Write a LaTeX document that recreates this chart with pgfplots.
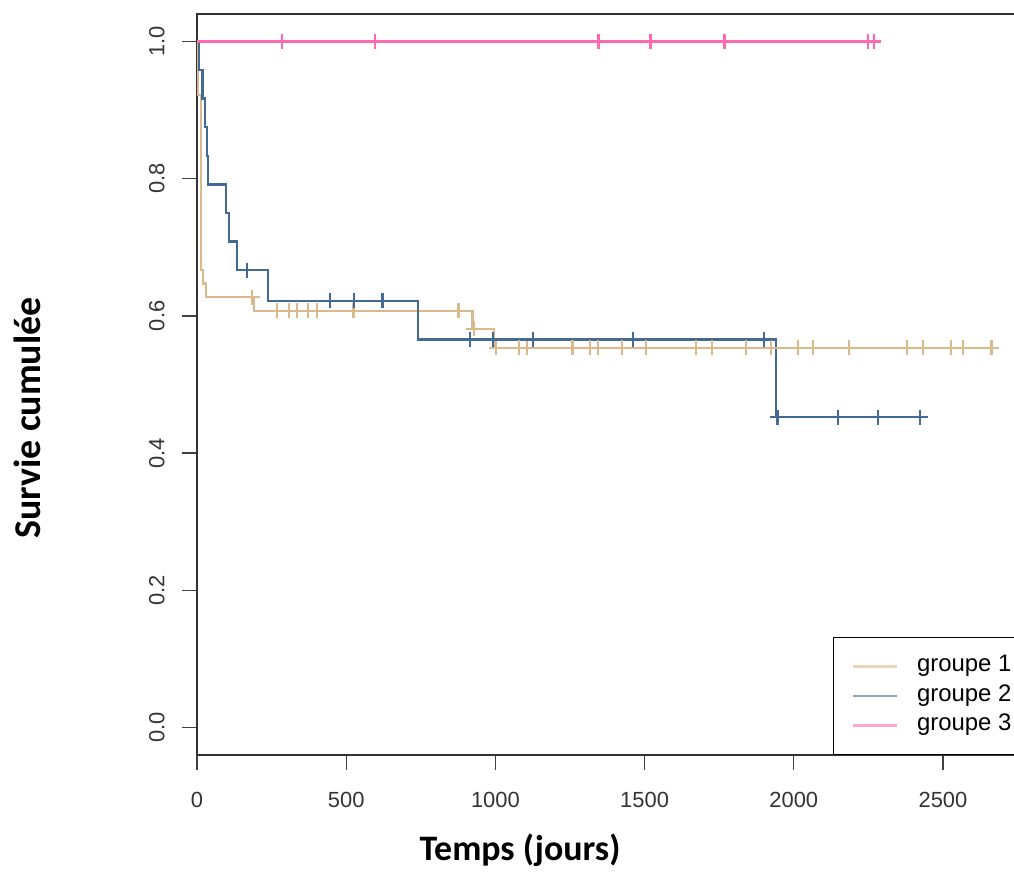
\documentclass[border=0pt]{standalone}
\usepackage{pgfplots}
\pgfplotsset{compat=1.18}
\usepackage{fontspec}
\setmainfont{Liberation Sans}
\newfontfamily\carlito{Carlito}
\definecolor{gtan}{RGB}{218,186,140}
\definecolor{gblue}{RGB}{66,106,148}
\definecolor{gpink}{RGB}{255,105,175}
\begin{document}
\begin{tikzpicture}
\begin{axis}[
  at={(0bp,0bp)}, anchor=south west,
  scale only axis,
  width=835.5bp, height=741bp,
  xmin=0, xmax=2800, ymin=-0.04, ymax=1.04,
  xtick={0,500,1000,1500,2000,2500},
  ytick={0,0.2,0.4,0.6,0.8,1.0},
  xtick pos=bottom, ytick pos=left,
  tick align=outside, major tick length=15bp,
  tick style={line width=1.3bp, black!75},
  axis line style={line width=1.5bp, black!80},
  /pgf/number format/assume math mode=true,
  /pgf/number format/1000 sep={},
  ticklabel style={font=\fontsize{22}{26}\selectfont, text=black!80},
  yticklabel style={rotate=90, anchor=south, /pgf/number format/fixed, /pgf/number format/fixed zerofill, /pgf/number format/precision=1},
  xticklabel shift=19bp,
  yticklabel shift=14bp,
  xlabel={Temps (jours)},
  ylabel={Survie cumulée},
  xlabel style={at={(axis description cs:0.3866,-0.129)}, anchor=center, font=\carlito\bfseries\fontsize{36}{40}\selectfont},
  ylabel style={at={(axis description cs:-0.2035,0.4548)}, anchor=center, rotate=0, font=\carlito\bfseries\fontsize{38}{42}\selectfont},
  legend style={at={(axis description cs:0.7612,0)}, anchor=south west, draw=black, line width=1.3bp, fill=white,
    font=\fontsize{24}{28}\selectfont, inner xsep=18bp, inner ysep=14bp, row sep=0bp, column sep=17bp,
    nodes={inner sep=2bp, text height=18bp, text depth=7.5bp}},
  legend cell align=left,
  legend image code/.code={\draw[#1, line width=2.4bp, opacity=0.6] (0bp,0bp) -- (44bp,0bp);},
]
% groupe 1
\addplot[const plot, gtan, line width=2.3bp] table {
0 1
3 0.9216
13 0.6667
20 0.6471
30 0.6275
190 0.6073
923 0.5809
996 0.5532
2663 0.5532
};
\addlegendentry{groupe 1}
% groupe 2
\addplot[const plot, gblue, line width=2.3bp] table {
0 1
7 0.9583
18 0.9167
26 0.875
33 0.8333
37 0.7917
97 0.75
108 0.7083
133 0.6667
238 0.6222
740 0.5657
1940 0.4525
2423 0.4525
};
\addlegendentry{groupe 2}
% groupe 3
\addplot[const plot, gpink, line width=2.3bp] table {
0 1
2268 1
};
\addlegendentry{groupe 3}
% censoring marks
\addplot[only marks, mark=+, mark size=7.5bp, gtan, line width=2.3bp, forget plot] table {
185 0.6275
269 0.6073
308 0.6073
336 0.6073
372 0.6073
403 0.6073
524 0.6073
876 0.6073
928 0.5809
1003 0.5532
1079 0.5532
1107 0.5532
1258 0.5532
1316 0.5532
1345 0.5532
1425 0.5532
1504 0.5532
1672 0.5532
1727 0.5532
1839 0.5532
1923 0.5532
2014 0.5532
2065 0.5532
2185 0.5532
2380 0.5532
2433 0.5532
2526 0.5532
2568 0.5532
2663 0.5532
};
\addplot[only marks, mark=+, mark size=7.5bp, gblue, line width=2.3bp, forget plot] table {
168 0.6667
446 0.6222
526 0.6222
622 0.6222
914 0.5657
992 0.5657
1125 0.5657
1461 0.5657
1900 0.5657
1945 0.4525
2149 0.4525
2283 0.4525
2423 0.4525
};
\addplot[only marks, mark=+, mark size=7.5bp, gpink, line width=2.3bp, forget plot] table {
285 1
596 1
1346 1
1520 1
1768 1
2248 1
2268 1
};
\end{axis}
\pgfresetboundingbox
\useasboundingbox (-197bp,-117bp) rectangle (817bp,755bp);
\end{tikzpicture}
\end{document}
